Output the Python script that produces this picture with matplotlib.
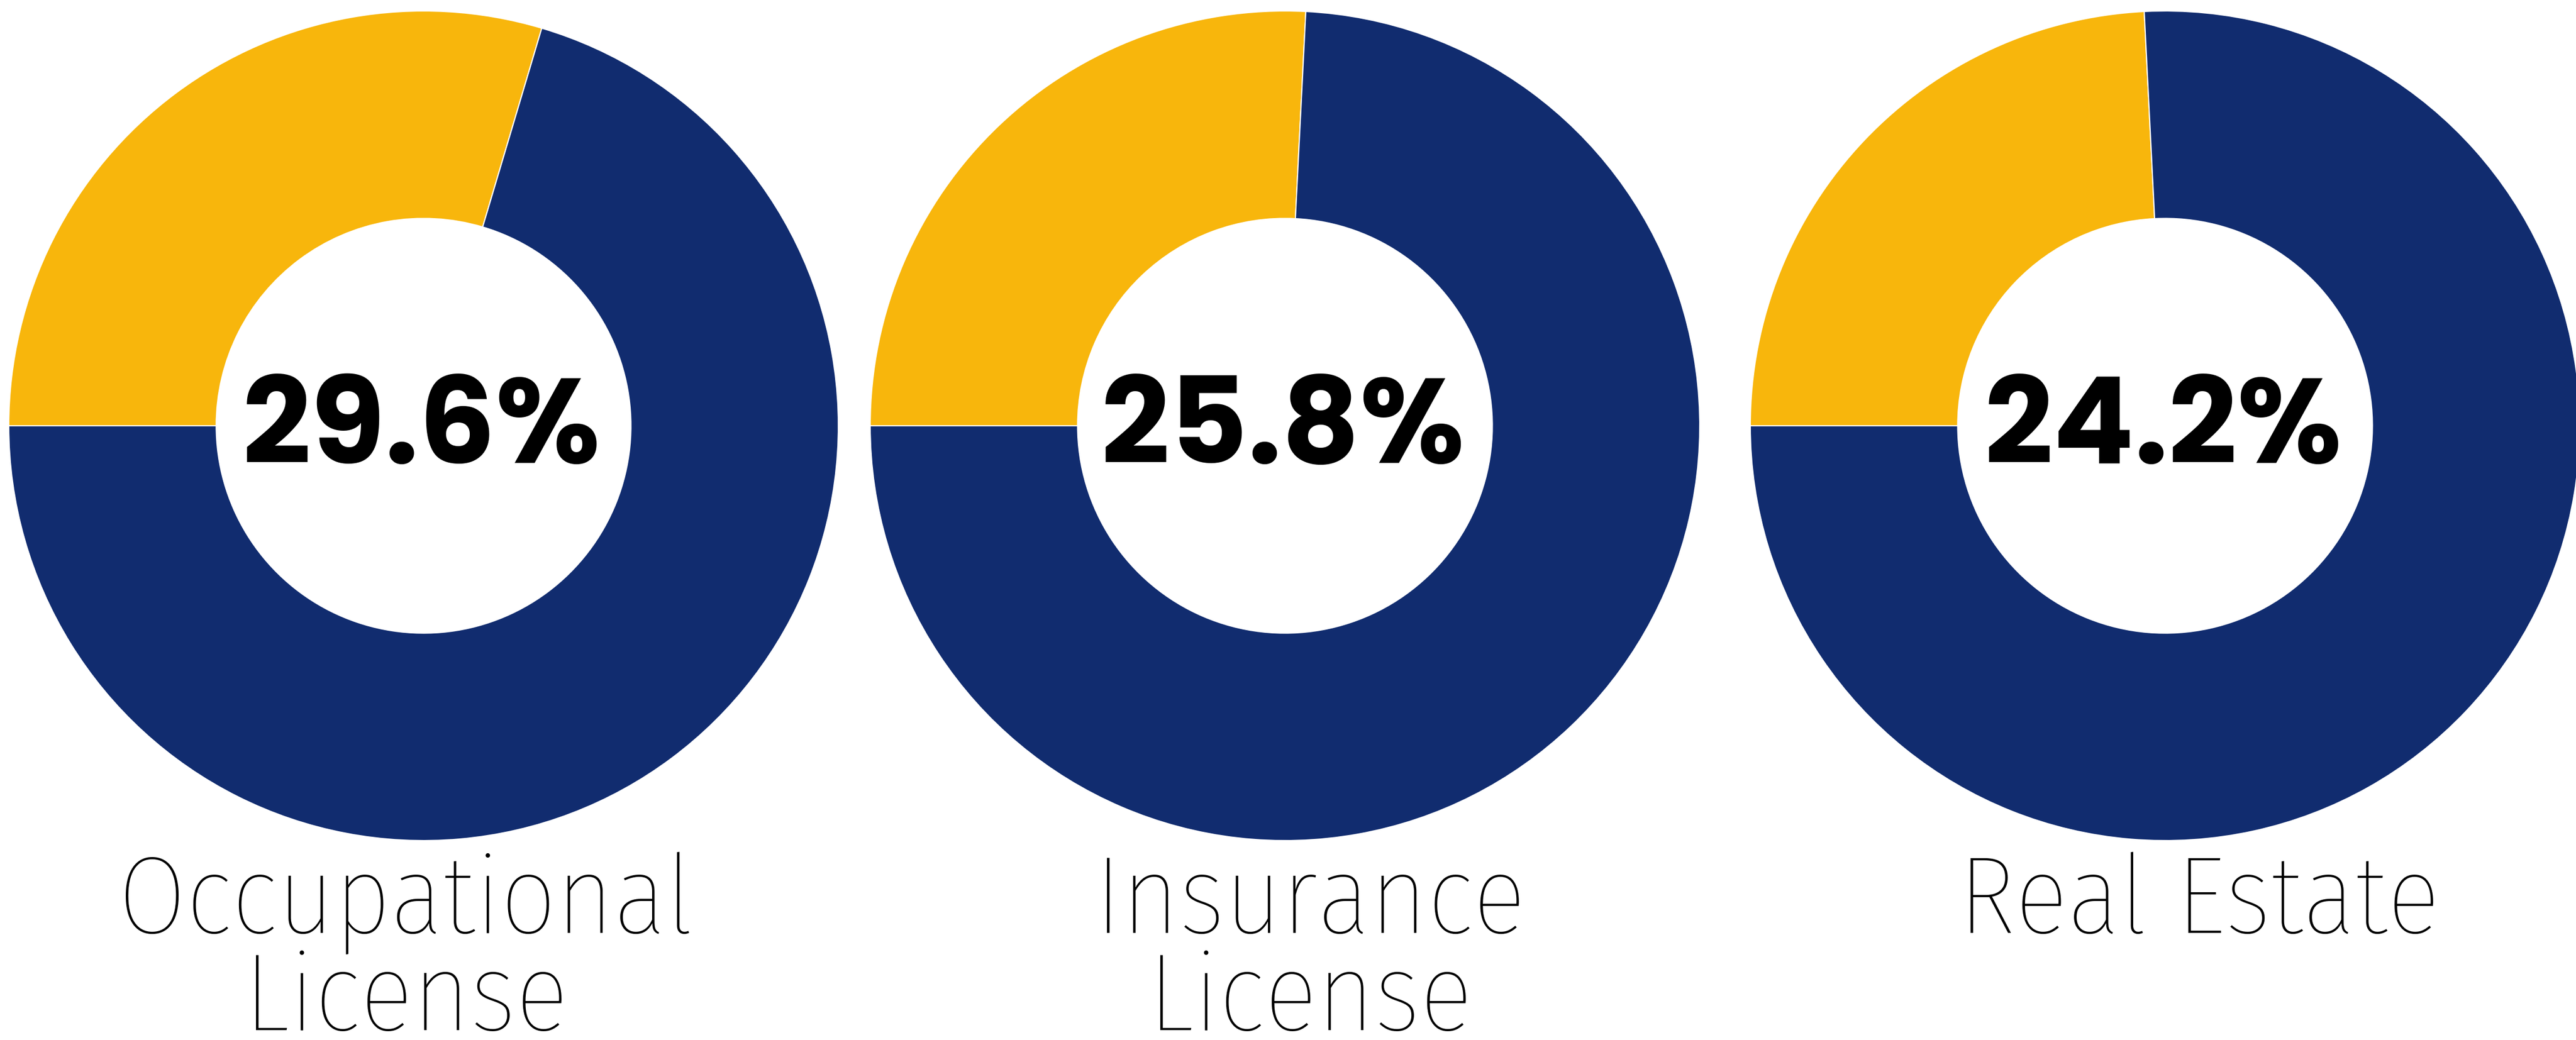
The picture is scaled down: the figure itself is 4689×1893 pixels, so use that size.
import matplotlib

matplotlib.use("Agg")

import matplotlib.pyplot as plt

# parts de chaque catégorie (en %)
categories = ["Occupational\nLicense", "Insurance\nLicense", "Real Estate"]
parts = [29.6, 25.8, 24.2]

gold = "#F8B60C"
navy = "#112C6F"

W, H = 4689, 1893
fig = plt.figure(figsize=(W / 100, H / 100), dpi=100)
fig.patch.set_facecolor("white")

centres_x = [771, 2339, 3941]
label_x = [739, 2385, 4003]
cy, R = 775, 755

for cat, val, cx, lx in zip(categories, parts, centres_x, label_x):
    ax = fig.add_axes([(cx - R) / W, (H - cy - R) / H, 2 * R / W, 2 * R / H])
    ax.pie(
        [val, 100 - val],
        colors=[gold, navy],
        startangle=180,
        counterclock=False,
        radius=1,
        wedgeprops=dict(width=0.5, edgecolor="white", linewidth=1.5),
    )
    ax.set_xlim(-1, 1)
    ax.set_ylim(-1, 1)
    ax.axis("off")
    ax.text(
        -0.005, -0.09, f"{val}%",
        ha="center", va="baseline",
        fontsize=158, fontfamily="Poppins", fontweight=700, color="black",
    )

    # libellés sur deux lignes sous chaque anneau
    for i, ligne in enumerate(cat.split("\n")):
        fig.text(
            lx / W, (H - 1698 - i * 177) / H, ligne,
            ha="center", va="baseline",
            fontsize=144, fontfamily="Fira Sans Condensed", fontweight=250,
            color="black",
        )

fig.savefig("out.png", dpi=100, facecolor="white")
